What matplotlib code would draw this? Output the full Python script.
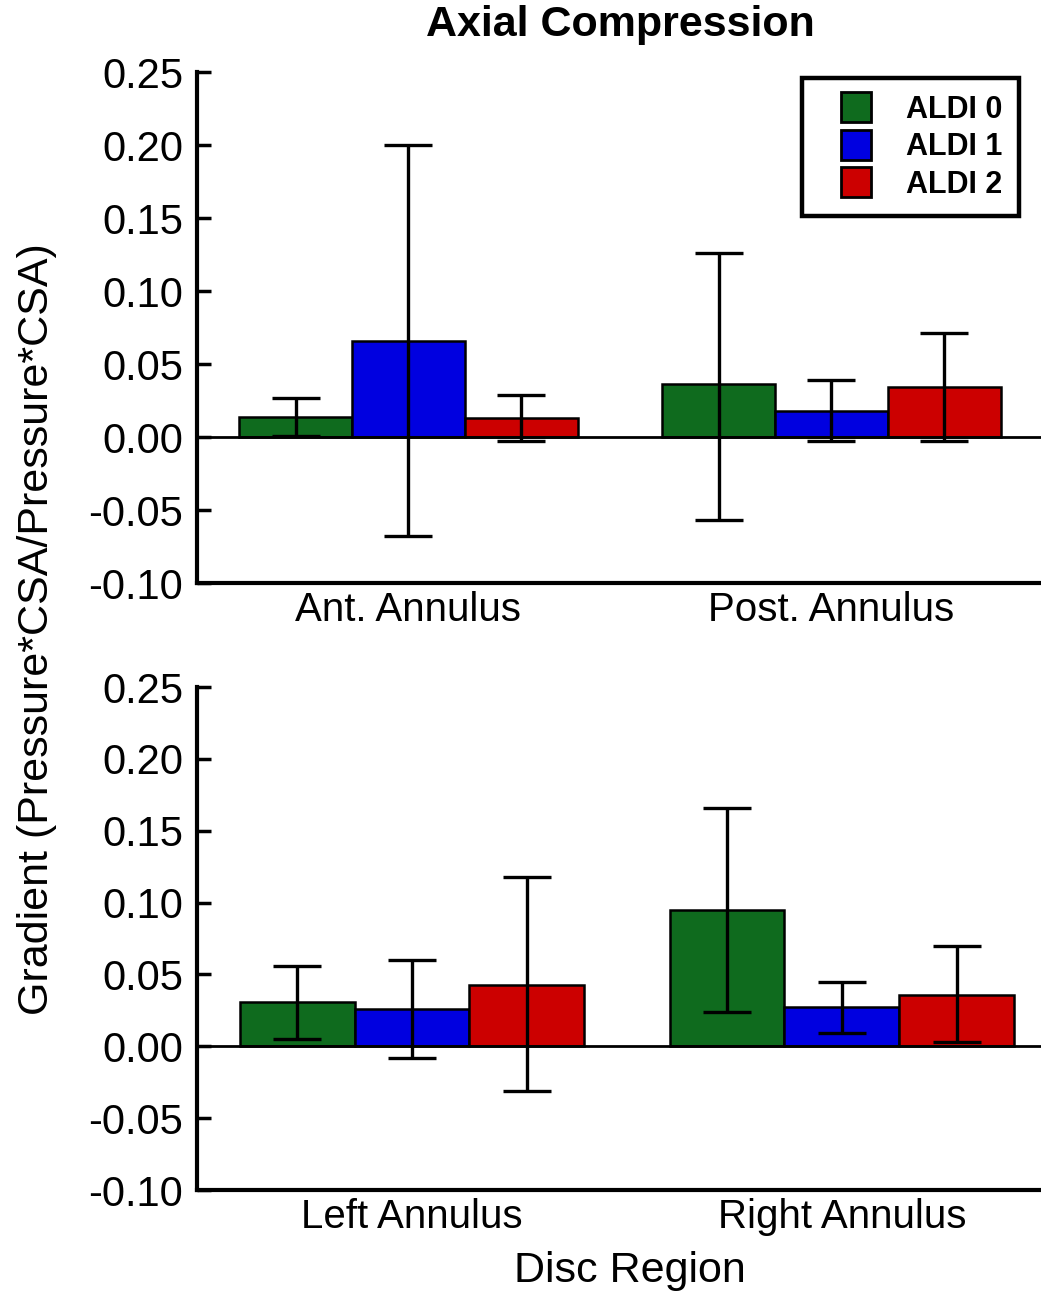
import matplotlib
matplotlib.use("Agg")
import matplotlib.pyplot as plt
from matplotlib.lines import Line2D
import numpy as np

plt.rcParams['font.family'] = ['Liberation Sans', 'DejaVu Sans']

series = ["ALDI 0", "ALDI 1", "ALDI 2"]
colors = ["#0f6b1e", "#0000e0", "#cc0000"]

top_regions = ["Ant. Annulus", "Post. Annulus"]
top_means = [[0.014, 0.036], [0.066, 0.018], [0.013, 0.034]]
top_hi = [[0.027, 0.126], [0.200, 0.039], [0.029, 0.071]]
top_lo = [[0.001, -0.057], [-0.068, -0.003], [-0.003, -0.003]]

bot_regions = ["Left Annulus", "Right Annulus"]
bot_means = [[0.031, 0.095], [0.026, 0.027], [0.043, 0.036]]
bot_hi = [[0.056, 0.166], [0.060, 0.045], [0.118, 0.070]]
bot_lo = [[0.005, 0.024], [-0.008, 0.009], [-0.031, 0.003]]

yticks = [-0.10, -0.05, 0.00, 0.05, 0.10, 0.15, 0.20, 0.25]

fig = plt.figure(figsize=(10.41, 12.98), dpi=100)
ax1 = fig.add_axes([0.1892, 0.5508, 0.8127, 0.3937])
ax2 = fig.add_axes([0.1892, 0.0832, 0.826, 0.3875])

width = 0.267

def draw(ax, regions, means, hi, lo):
    x = np.arange(len(regions))
    for i, name in enumerate(series):
        pos = x + (i - 1) * width
        m = np.array(means[i])
        err = np.vstack([m - np.array(lo[i]), np.array(hi[i]) - m])
        ax.bar(pos, m, width, color=colors[i], edgecolor='black', linewidth=1.8,
               label=name, zorder=2)
        ax.errorbar(pos, m, yerr=err, fmt='none', ecolor='black', elinewidth=2.4,
                    capsize=17, capthick=2.4, zorder=3)
    ax.axhline(0, color='black', linewidth=2, zorder=4)
    ax.set_xlim(-0.5, 1.5)
    ax.set_ylim(-0.10, 0.25)
    ax.set_yticks(yticks)
    ax.set_yticklabels([f"{t:.2f}" for t in yticks])
    ax.set_xticks(x)
    ax.set_xticklabels(regions)
    for s in ['top', 'right']:
        ax.spines[s].set_visible(False)
    for s in ['left', 'bottom']:
        ax.spines[s].set_linewidth(3)
    ax.tick_params(axis='y', direction='in', length=10, width=2.5, labelsize=30, pad=10)
    ax.tick_params(axis='x', length=0, labelsize=29, pad=6)

draw(ax1, top_regions, top_means, top_hi, top_lo)
draw(ax2, bot_regions, bot_means, bot_hi, bot_lo)

handles = [Line2D([], [], linestyle='none', marker='s', markersize=21,
                  markerfacecolor=c, markeredgecolor='black', markeredgewidth=2)
           for c in colors]
leg = ax1.legend(handles, series, loc='upper right', bbox_to_anchor=(0.972, 0.988),
                 frameon=True, fancybox=False, edgecolor='black', framealpha=1,
                 prop={'weight': 'bold', 'size': 22}, handlelength=2.4,
                 labelspacing=0.24, borderpad=0.55, handletextpad=0.45,
                 borderaxespad=0)
leg.get_frame().set_linewidth(3.2)

fig.text(0.596, 0.981, "Axial Compression", ha='center', va='center',
         fontsize=31, fontweight='bold')
fig.text(0.605, 0.021, "Disc Region", ha='center', va='center', fontsize=31)
fig.text(0.036, 0.515, "Gradient (Pressure*CSA/Pressure*CSA)", ha='center', va='center',
         rotation=90, fontsize=31)

fig.savefig("out.png", dpi=100)
